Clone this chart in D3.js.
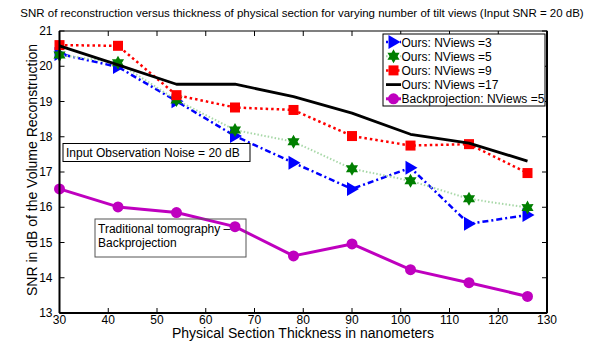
<!DOCTYPE html>
<html>
<head>
<meta charset="utf-8">
<script src="https://cdn.jsdelivr.net/npm/d3@7"></script>
<style>
  body { margin: 0; background: #fff; }
  svg { display: block; font-family: "Liberation Sans", Arial, sans-serif; }
</style>
</head>
<body>
<div id="chart"></div>
<script>
// thickness of the physical section (nm)
var thickness = [30, 42, 54, 66, 78, 90, 102, 114, 126];

var nviews3 = [20.35, 19.98, 19.01, 18.02, 17.26, 16.52, 17.12, 15.53, 15.78];
var nviews5 = [20.32, 20.1, 19.04, 18.19, 17.86, 17.09, 16.75, 16.24, 15.99];
var nviews9 = [20.6, 20.58, 19.18, 18.83, 18.76, 18.02, 17.75, 17.79, 16.97];
var nviews17 = [20.58, 20.04, 19.49, 19.49, 19.14, 18.67, 18.07, 17.82, 17.31];
var backproj5 = [16.52, 16.01, 15.85, 15.45, 14.62, 14.96, 14.23, 13.86, 13.47];

var xTicks = [30, 40, 50, 60, 70, 80, 90, 100, 110, 120, 130];
var yTicks = [13, 14, 15, 16, 17, 18, 19, 20, 21];

var W = 600, H = 341;
var m = { left: 59.5, right: 53, top: 31, bottom: 28 };

var svg = d3.select('#chart').append('svg').attr('width', W).attr('height', H);

var x = d3.scaleLinear().domain([30, 130]).range([m.left, W - m.right]);
var y = d3.scaleLinear().domain([13, 21]).range([H - m.bottom, m.top]);

// series config
var series = [
  { name: 'Ours: NViews =3', values: nviews3, color: '#0000ff', dash: '2,3,6,3', width: 2.5, marker: 'tri', lineColor: '#0000ff' },
  { name: 'Ours: NViews =5', values: nviews5, color: '#007f00', dash: '1.5,2', width: 2, marker: 'star', lineColor: '#a8d8a8' },
  { name: 'Ours: NViews =9', values: nviews9, color: '#ff0000', dash: '2.5,3', width: 2.5, marker: 'square', lineColor: '#ff0000' },
  { name: 'Ours: NViews =17', values: nviews17, color: '#000000', dash: null, width: 2.8, marker: null, lineColor: '#000000' },
  { name: 'Backprojection: NViews =5', values: backproj5, color: '#bf00bf', dash: null, width: 3, marker: 'circle', lineColor: '#bf00bf' }
];

function drawMarker(g, type, color) {
  if (type === 'tri') {
    g.append('path').attr('d', 'M-5,-7 L7,0 L-5,7 Z').attr('fill', color);
  } else if (type === 'star') {
    // six pointed star
    var pts = [];
    for (var k = 0; k < 12; k++) {
      var r = k % 2 === 0 ? 7 : 4;
      var a = -Math.PI / 2 + k * Math.PI / 6;
      pts.push([r * Math.cos(a), r * Math.sin(a)]);
    }
    g.append('path').attr('d', 'M' + pts.join('L') + 'Z').attr('fill', color);
  } else if (type === 'square') {
    g.append('rect').attr('x', -5).attr('y', -5).attr('width', 10).attr('height', 10).attr('fill', color);
  } else if (type === 'circle') {
    g.append('circle').attr('r', 5.5).attr('fill', color);
  }
}

var plot = svg.append('g');

series.forEach(function (s) {
  var line = d3.line()
    .x(function (d, i) { return x(thickness[i]); })
    .y(function (d) { return y(d); });
  plot.append('path')
    .datum(s.values)
    .attr('d', line)
    .attr('fill', 'none')
    .attr('stroke', s.lineColor)
    .attr('stroke-width', s.width)
    .attr('stroke-dasharray', s.dash)
    .attr('stroke-linejoin', 'round');
  if (s.marker) {
    s.values.forEach(function (v, i) {
      var g = plot.append('g').attr('transform', 'translate(' + x(thickness[i]) + ',' + y(v) + ')');
      drawMarker(g, s.marker, s.color);
    });
  }
});

// axes box with inward ticks on all four sides
var axes = svg.append('g').attr('font-size', 12).attr('fill', '#000');
axes.append('rect')
  .attr('x', m.left).attr('y', m.top)
  .attr('width', W - m.right - m.left).attr('height', H - m.bottom - m.top)
  .attr('fill', 'none').attr('stroke', '#000').attr('stroke-width', 1);
axes.append('line')
  .attr('x1', m.left).attr('x2', W - m.right)
  .attr('y1', H - m.bottom).attr('y2', H - m.bottom)
  .attr('stroke', '#000').attr('stroke-width', 2);
axes.append('line')
  .attr('x1', m.left).attr('x2', m.left)
  .attr('y1', m.top).attr('y2', H - m.bottom)
  .attr('stroke', '#000').attr('stroke-width', 2);
axes.append('line')
  .attr('x1', W - m.right).attr('x2', W - m.right)
  .attr('y1', m.top).attr('y2', H - m.bottom)
  .attr('stroke', '#000').attr('stroke-width', 2);

xTicks.forEach(function (t) {
  axes.append('line').attr('x1', x(t)).attr('x2', x(t))
    .attr('y1', H - m.bottom).attr('y2', H - m.bottom - 5).attr('stroke', '#000');
  axes.append('line').attr('x1', x(t)).attr('x2', x(t))
    .attr('y1', m.top).attr('y2', m.top + 5).attr('stroke', '#000');
  axes.append('text').attr('x', x(t)).attr('y', H - m.bottom + 10.5)
    .attr('text-anchor', 'middle').text(t);
});
yTicks.forEach(function (t) {
  axes.append('line').attr('x1', m.left).attr('x2', m.left + 5)
    .attr('y1', y(t)).attr('y2', y(t)).attr('stroke', '#000');
  axes.append('line').attr('x1', W - m.right).attr('x2', W - m.right - 5)
    .attr('y1', y(t)).attr('y2', y(t)).attr('stroke', '#000');
  axes.append('text').attr('x', m.left - 7).attr('y', y(t) + 4)
    .attr('text-anchor', 'end').text(t);
});

// title and axis labels
svg.append('text').attr('x', 302).attr('y', 17).attr('text-anchor', 'middle')
  .attr('font-size', 11.5).text('SNR of reconstruction versus thickness of physical section for varying number of tilt views (Input SNR = 20 dB)');
svg.append('text').attr('x', 303).attr('y', 338.2).attr('text-anchor', 'middle')
  .attr('font-size', 14).text('Physical Section Thickness in nanometers');
svg.append('text').attr('transform', 'translate(36.5,170) rotate(-90)').attr('text-anchor', 'middle')
  .attr('font-size', 14).text('SNR in dB of the Volume Reconstruction');

// annotation boxes
var note1 = svg.append('g');
note1.append('rect').attr('x', 63).attr('y', 143.5).attr('width', 187).attr('height', 18)
  .attr('fill', '#fff').attr('stroke', '#000').attr('stroke-width', 1);
note1.append('text').attr('x', 66).attr('y', 157).attr('font-size', 12).text('Input Observation Noise = 20 dB');

var note2 = svg.append('g');
note2.append('rect').attr('x', 95).attr('y', 219).attr('width', 151).attr('height', 38)
  .attr('fill', 'none').attr('stroke', '#555').attr('stroke-width', 1);
note2.append('text').attr('x', 98).attr('y', 233).attr('font-size', 12).text('Traditional tomography \u2013');
note2.append('text').attr('x', 98).attr('y', 247).attr('font-size', 12).text('Backprojection');

// legend
var legend = svg.append('g');
legend.append('rect').attr('x', 383).attr('y', 34).attr('width', 162).attr('height', 72)
  .attr('fill', '#fff').attr('stroke', '#000').attr('stroke-width', 1);
series.forEach(function (s, i) {
  var ly = 42 + i * 14.2;
  legend.append('line').attr('x1', 386).attr('x2', 401).attr('y1', ly).attr('y2', ly)
    .attr('stroke', s.lineColor).attr('stroke-width', s.width).attr('stroke-dasharray', s.dash);
  if (s.marker) {
    var g = legend.append('g').attr('transform', 'translate(393.5,' + ly + ')');
    drawMarker(g, s.marker, s.color);
  }
  legend.append('text').attr('x', 401.5).attr('y', ly + 4.5).attr('font-size', 12).text(s.name);
});
</script>
</body>
</html>
